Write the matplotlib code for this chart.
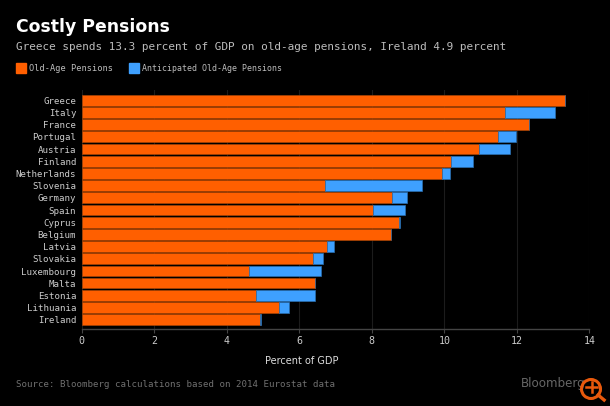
import matplotlib
matplotlib.use("Agg")
import matplotlib.pyplot as plt
from matplotlib.lines import Line2D
from matplotlib.patches import Circle, Rectangle

countries = ["Greece", "Italy", "France", "Portugal", "Austria", "Finland", "Netherlands",
             "Slovenia", "Germany", "Spain", "Cyprus", "Belgium", "Latvia", "Slovakia",
             "Luxembourg", "Malta", "Estonia", "Lithuania", "Ireland"]
old_age = [13.33, 11.66, 12.34, 11.47, 10.95, 10.18, 9.94, 6.70, 8.57, 8.04, 8.75, 8.52,
           6.77, 6.38, 4.62, 6.42, 4.80, 5.45, 4.91]
anticipated = [0, 1.40, 0, 0.51, 0.86, 0.62, 0.22, 2.68, 0.40, 0.88, 0.04, 0,
               0.20, 0.27, 1.98, 0, 1.62, 0.26, 0.04]
x_ticks = [0, 2, 4, 6, 8, 10, 12, 14]

ORANGE = "#ff5f00"
BLUE = "#3ea0ff"
MONO = "DejaVu Sans Mono"
W, H = 610, 406

fig = plt.figure(figsize=(W / 100 + 0.001, H / 100 + 0.001), dpi=100, facecolor="black")
ax = fig.add_axes([81.7 / W, 1 - 329 / H, (589.3 - 81.7) / W, (329 - 90) / H], facecolor="black")

ypos = list(range(len(countries)))
ax.barh(ypos, old_age, height=0.88, color=ORANGE, edgecolor="#a84405", linewidth=0.5, zorder=3)
ax.barh(ypos, anticipated, left=old_age, height=0.88, color=BLUE, edgecolor="#2a6fb0",
        linewidth=0.5, zorder=3)

ax.set_xlim(0, 14)
ax.set_ylim(18.76, -0.84)
ax.set_xticks(x_ticks)
ax.set_yticks(ypos, countries)
ax.grid(axis="x", color="#1c1c1c", linewidth=0.8, zorder=0)
ax.tick_params(axis="x", colors="#444444", length=3, width=0.8, pad=2, labelcolor="#cccccc", labelsize=7.2)
ax.tick_params(axis="y", length=0, pad=4, labelcolor="#cccccc", labelsize=6.6)
for lab in ax.get_xticklabels() + ax.get_yticklabels():
    lab.set_family(MONO)
for side in ["top", "left", "right"]:
    ax.spines[side].set_visible(False)
ax.spines["bottom"].set_color("#444444")
ax.spines["bottom"].set_linewidth(1.0)


def put(x, y, s, **kw):
    # pixel coords, origin top left like the reference
    fig.text(x / W, 1 - y / H, s, va="center", **kw)


put(16, 27, "Costly Pensions", color="white", fontsize=12.4, fontweight="bold")
put(16, 46.5, "Greece spends 13.3 percent of GDP on old-age pensions, Ireland 4.9 percent",
    color="#bdbdbd", fontsize=7.95, family=MONO)

fig.add_artist(Rectangle((16 / W, 1 - 73 / H), 10 / W, 9.5 / H, color=ORANGE, transform=fig.transFigure))
put(28.5, 68.5, "Old-Age Pensions", color="#bdbdbd", fontsize=6.2, family=MONO)
fig.add_artist(Rectangle((129 / W, 1 - 73 / H), 10 / W, 9.5 / H, color=BLUE, transform=fig.transFigure))
put(141.5, 68.5, "Anticipated Old-Age Pensions", color="#bdbdbd", fontsize=5.95, family=MONO)

put(302, 360.5, "Percent of GDP", color="#dddddd", fontsize=7.0, ha="center")
put(16, 384, "Source: Bloomberg calculations based on 2014 Eurostat data", color="#707070",
    fontsize=6.56, family=MONO)
put(521, 383, "Bloomberg", color="#666666", fontsize=8.6)

# magnifier badge in the corner
fig.add_artist(Circle((591, H - 389), 9.5, transform=None, fill=False, edgecolor="#e8590c", linewidth=2.2, zorder=5))
fig.add_artist(Line2D([598 / W, 604 / W], [1 - 395 / H, 1 - 400 / H], color="#e8590c", linewidth=2.4, zorder=5))
fig.add_artist(Line2D([591.5 / W, 591.5 / W], [1 - 382 / H, 1 - 392 / H], color="#e8590c", linewidth=1.8, zorder=5))
fig.add_artist(Line2D([586 / W, 597 / W], [1 - 387 / H, 1 - 387 / H], color="#e8590c", linewidth=1.8, zorder=5))

fig.savefig("out.png", dpi=100, facecolor="black")
